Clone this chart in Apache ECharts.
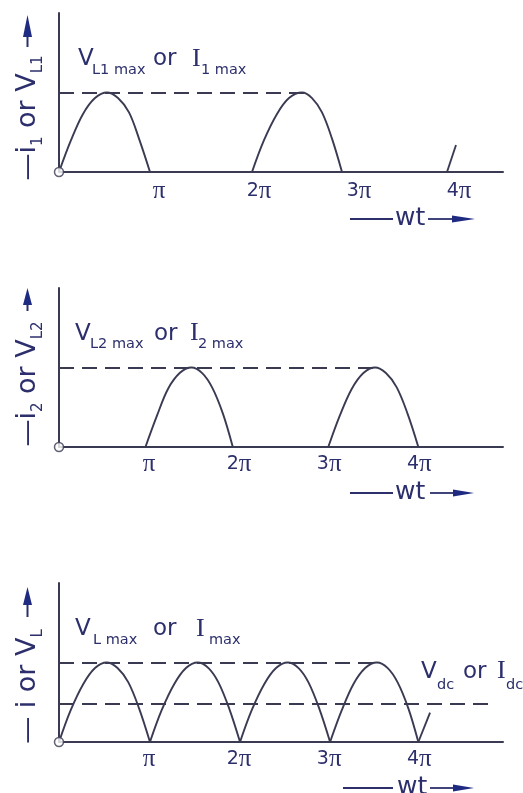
<!DOCTYPE html>
<html>
<head>
<meta charset="utf-8">
<title>Full-wave rectifier waveforms</title>
<script src="https://cdn.jsdelivr.net/npm/echarts@6/dist/echarts.min.js"></script>
<style>
html, body { margin: 0; padding: 0; background: #fff; }
#main { width: 523px; height: 793px; }
</style>
</head>
<body>
<div id="main"></div>
<script>
// x unit = pi, y unit = peak value
var tickLabels = ['', 'π', '2π', '3π', '4π'];
var peakLevel = 1;

// panel 1: i1 / VL1
var wave1Humps = [
    [[0, 0], [0.12, 0.4], [0.24, 0.73], [0.36, 0.93], [0.48, 1], [0.59, 0.93], [0.7, 0.75], [0.8, 0.42], [0.91, 0]],
    [[1.93, 0], [2.05, 0.4], [2.18, 0.73], [2.3, 0.93], [2.43, 1], [2.53, 0.93], [2.63, 0.75], [2.73, 0.42], [2.83, 0]]
];
var wave1Tail = [[3.88, 0], [3.97, 0.34]];
var wave1PeakEnd = 2.51;

// panel 2: i2 / VL2
var wave2Humps = [
    [[0.96, 0], [1.09, 0.4], [1.21, 0.73], [1.34, 0.93], [1.47, 1], [1.59, 0.93], [1.7, 0.75], [1.82, 0.42], [1.93, 0]],
    [[2.99, 0], [3.12, 0.4], [3.25, 0.73], [3.38, 0.93], [3.51, 1], [3.63, 0.93], [3.75, 0.75], [3.87, 0.42], [3.99, 0]]
];
var wave2PeakEnd = 3.57;

// panel 3: i / VL
var wave3Humps = [
    [[0, 0], [0.13, 0.4], [0.27, 0.73], [0.4, 0.93], [0.53, 1], [0.65, 0.93], [0.77, 0.75], [0.89, 0.42], [1.01, 0]],
    [[1.01, 0], [1.14, 0.4], [1.28, 0.73], [1.41, 0.93], [1.54, 1], [1.66, 0.93], [1.77, 0.75], [1.89, 0.42], [2.01, 0]],
    [[2.01, 0], [2.14, 0.4], [2.28, 0.73], [2.41, 0.93], [2.54, 1], [2.66, 0.93], [2.77, 0.75], [2.89, 0.42], [3.01, 0]],
    [[3.01, 0], [3.14, 0.4], [3.27, 0.73], [3.4, 0.93], [3.53, 1], [3.65, 0.93], [3.76, 0.75], [3.88, 0.42], [3.99, 0]]
];
var wave3Tail = [[3.99, 0], [4.12, 0.37]];
var wave3PeakEnd = 3.53;
var dcLevel = 0.48;
var dcEnd = 4.82;

var lineColor = '#3a3b52';
var textColor = '#2c2f6b';
var dash = [15, 8];

var myChart = echarts.init(document.getElementById('main'));

var grids = [
    {left: 59, top: 13, width: 444, height: 159, xMax: 4.44, labelMargin: 7, padR: 51,
     name: '{b|—i}{s|1}{b| or V}{s|L1}'},
    {left: 59, top: 288, width: 444, height: 159, xMax: 4.93, labelMargin: 5, padR: 33,
     name: '{b|—i}{s|2}{b| or V}{s|L2}'},
    {left: 59, top: 583, width: 444, height: 159, xMax: 4.93, labelMargin: 5, padR: 48,
     name: '{b|— i or V}{s|L}'}
];

function tickFormatter(v) {
    var s = tickLabels[v];
    if (!s) return '';
    return s.length > 1 ? '{d|' + s.charAt(0) + '}{p|π}' : '{p|π}';
}

var xAxes = grids.map(function (g, i) {
    return {
        type: 'value', gridIndex: i, min: 0, max: g.xMax, interval: 1,
        axisLine: {show: true, onZero: false, lineStyle: {color: lineColor, width: 2}},
        axisTick: {show: false},
        splitLine: {show: false},
        axisLabel: {
            margin: g.labelMargin,
            formatter: tickFormatter,
            rich: {
                d: {fontSize: 19, fontFamily: 'DejaVu Sans', color: textColor},
                p: {fontSize: 25, fontFamily: 'Liberation Serif', color: textColor}
            }
        }
    };
});

var yAxes = grids.map(function (g, i) {
    return {
        type: 'value', gridIndex: i, min: 0, max: 2,
        axisLine: {show: true, lineStyle: {color: lineColor, width: 2}},
        axisTick: {show: false},
        axisLabel: {show: false},
        splitLine: {show: false},
        name: g.name,
        nameLocation: 'middle',
        nameRotate: 90,
        nameGap: 13,
        nameTextStyle: {
            padding: [0, g.padR, 0, 0],
            rich: {
                b: {fontSize: 27, fontFamily: 'DejaVu Sans', color: textColor, lineHeight: 36},
                s: {fontSize: 15, fontFamily: 'DejaVu Sans', color: textColor, lineHeight: 16, verticalAlign: 'bottom'}
            }
        }
    };
});

function dashed(level, end) {
    return [{coord: [0, level]}, {coord: [end, level]}];
}

var series = [];
function addHumps(humps, g, lines) {
    humps.forEach(function (h, k) {
        var s = {
            type: 'line', xAxisIndex: g, yAxisIndex: g, data: h,
            smooth: 0.35, symbol: 'none', silent: true, z: 3,
            lineStyle: {color: lineColor, width: 1.9}
        };
        if (k === 0) {
            s.markLine = {
                silent: true, symbol: ['none', 'none'],
                label: {show: false},
                lineStyle: {color: lineColor, width: 2, type: dash},
                data: lines
            };
        }
        series.push(s);
    });
}
function addTail(tail, g) {
    series.push({
        type: 'line', xAxisIndex: g, yAxisIndex: g, data: tail,
        symbol: 'none', silent: true, lineStyle: {color: lineColor, width: 1.9}
    });
}

addHumps(wave1Humps, 0, [dashed(peakLevel, wave1PeakEnd)]);
addTail(wave1Tail, 0);
addHumps(wave2Humps, 1, [dashed(peakLevel, wave2PeakEnd)]);
addHumps(wave3Humps, 2, [dashed(peakLevel, wave3PeakEnd), dashed(dcLevel, dcEnd)]);
addTail(wave3Tail, 2);

// origin circles
[0, 1, 2].forEach(function (g) {
    series.push({
        type: 'scatter', xAxisIndex: g, yAxisIndex: g, data: [[0, 0]],
        symbol: 'circle', symbolSize: 9, clip: false, silent: true, z: 5,
        itemStyle: {color: '#fff', borderColor: lineColor, borderWidth: 1.5}
    });
});

// text helper: x = left edge, yb = baseline
function txt(x, yb, str, size, fam) {
    return {
        type: 'text', x: x, y: yb - 0.35 * size, silent: true,
        style: {
            text: str, x: 0, y: 0, fill: textColor,
            font: size + 'px "' + (fam || 'DejaVu Sans') + '"',
            align: 'left', textAlign: 'left',
            verticalAlign: 'middle', textVerticalAlign: 'middle'
        }
    };
}
function arrowUp(x, tip, base, shaftEnd) {
    return [
        {type: 'line', silent: true, shape: {x1: x, y1: base, x2: x, y2: shaftEnd},
         style: {stroke: textColor, lineWidth: 2}},
        {type: 'polygon', silent: true, shape: {points: [[x, tip], [x - 4.5, base], [x + 4.5, base]]},
         style: {fill: '#1f2b80'}}
    ];
}
function wtLabel(y, l1, l2, t, s1, s2, tip) {
    return [
        {type: 'line', silent: true, shape: {x1: l1, y1: y, x2: l2, y2: y}, style: {stroke: textColor, lineWidth: 1.8}},
        txt(t, y + 8, 'wt', 25),
        {type: 'line', silent: true, shape: {x1: s1, y1: y, x2: s2, y2: y}, style: {stroke: textColor, lineWidth: 1.8}},
        {type: 'polygon', silent: true, shape: {points: [[s2 - 4, y - 3.5], [tip, y], [s2 - 4, y + 3.5]]},
         style: {fill: '#1f2b80'}}
    ];
}

var graphics = [].concat(
    arrowUp(27.5, 15, 37, 47),
    arrowUp(27.5, 288, 305, 311),
    arrowUp(27.5, 587, 605, 617),
    wtLabel(219, 350, 393, 395, 428, 456, 475),
    wtLabel(493, 350, 393, 395, 430, 457, 474),
    wtLabel(788, 343, 393, 397, 430, 457, 474),
    [
        // panel 1 peak label
        txt(78, 67, 'V', 23), txt(92, 75, 'L1 max', 14.5),
        txt(153, 67, 'or', 23), txt(192, 68, 'I', 26, 'Liberation Serif'), txt(201, 75, '1 max', 14.5),
        // panel 2 peak label
        txt(75, 342, 'V', 23), txt(90, 349, 'L2 max', 14.5),
        txt(154, 342, 'or', 23), txt(190, 342, 'I', 26, 'Liberation Serif'), txt(198, 349, '2 max', 14.5),
        // panel 3 peak label
        txt(75, 637, 'V', 23), txt(93, 645, 'L max', 14.5),
        txt(153, 637, 'or', 23), txt(196, 638, 'I', 26, 'Liberation Serif'), txt(209, 645, 'max', 14.5),
        // dc label
        txt(421, 680, 'V', 23), txt(437, 690, 'dc', 14.5),
        txt(463, 680, 'or', 23), txt(497, 680, 'I', 26, 'Liberation Serif'), txt(506, 690, 'dc', 14.5)
    ]
);

var option = {
    backgroundColor: '#ffffff',
    animation: false,
    grid: grids.map(function (g) {
        return {left: g.left, top: g.top, width: g.width, height: g.height,
                containLabel: false, outerBoundsMode: 'none'};
    }),
    xAxis: xAxes,
    yAxis: yAxes,
    series: series,
    graphic: graphics
};

myChart.setOption(option);
</script>
</body>
</html>
